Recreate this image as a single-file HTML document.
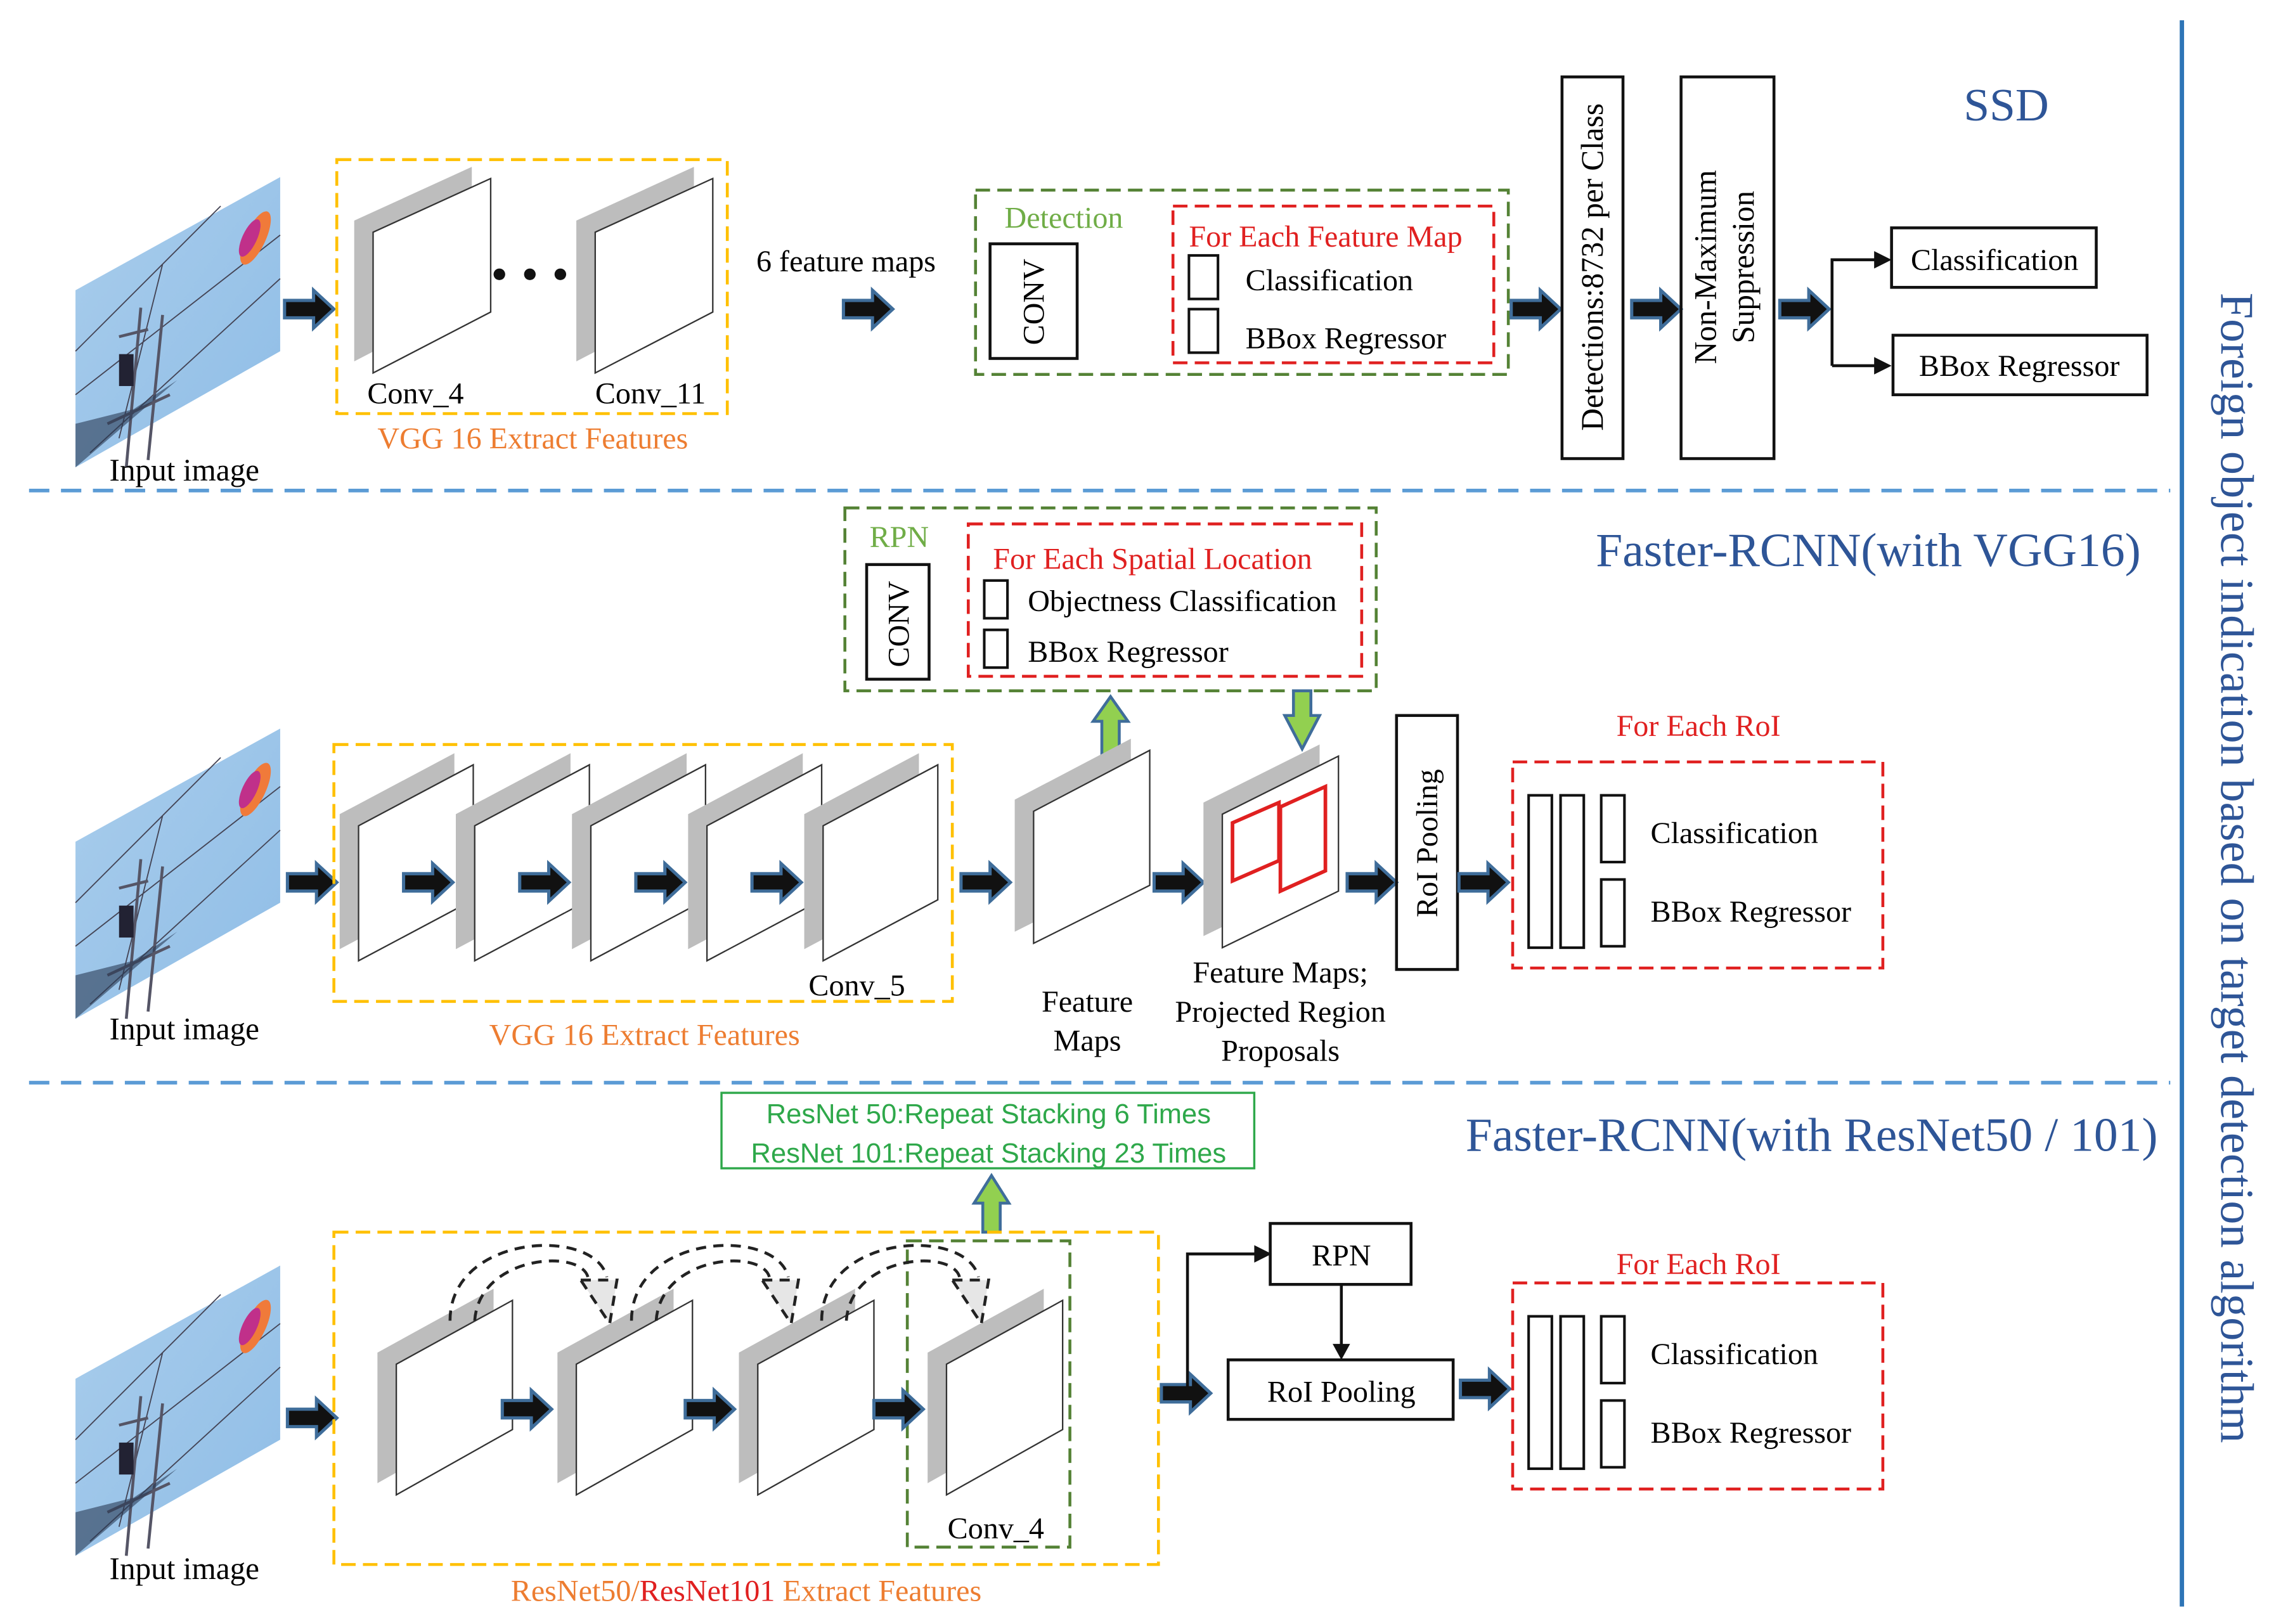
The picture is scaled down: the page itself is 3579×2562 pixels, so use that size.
<!DOCTYPE html>
<html><head><meta charset="utf-8"><style>
html,body{margin:0;padding:0;background:#fff;}
svg{display:block;}
text{font-family:"Liberation Serif",serif;}
.s{font-family:"Liberation Sans",sans-serif;}
</style></head><body>
<svg width="3579" height="2562" viewBox="0 0 1563 1119" preserveAspectRatio="none" xmlns="http://www.w3.org/2000/svg">
<defs>
<g id="ar"><path d="M0,-6 H20 V-13 L34,0 L20,13 V6 H0 Z" fill="#111" stroke="#3f6d9a" stroke-width="2.2" stroke-linejoin="miter"/></g>
<linearGradient id="sky" x1="0" y1="0" x2="1" y2="1"><stop offset="0" stop-color="#a9cdec"/><stop offset="1" stop-color="#8fbde6"/></linearGradient>
<g id="img">
<polygon points="0,78 141,0 141,120 0,200" fill="url(#sky)"/>
<path d="M0,150 L141,40 M10,190 L141,70 M0,120 L100,20 M30,180 L60,60" stroke="#445" stroke-width="0.8" fill="none"/>
<path d="M35,200 L45,90 M50,195 L60,95 M30,110 L50,105 M22,170 L65,150" stroke="#556" stroke-width="2" fill="none"/>
<rect x="30" y="122" width="10" height="22" fill="#223"/>
<path d="M0,170 L40,160 L70,140 L0,200Z" fill="#2a3b55" opacity="0.6"/>
<ellipse cx="124" cy="42" rx="7" ry="20" fill="#f07a3a" transform="rotate(25 124 42)"/>
<ellipse cx="120" cy="42" rx="5" ry="14" fill="#c0308a" transform="rotate(25 120 42)"/>
</g>
</defs>

<line x1="1503" y1="14" x2="1503" y2="1107" stroke="#2e75b6" stroke-width="3"/>
<text x="1530" y="598" transform="rotate(90 1530 598)" text-anchor="middle" font-size="32.5" fill="#2e5597">Foreign object indication based on target detection algorithm</text>

<line x1="20" y1="338" x2="1495" y2="338" stroke="#5b9bd5" stroke-width="2.5" stroke-dasharray="14 8"/>
<line x1="20" y1="746" x2="1495" y2="746" stroke="#5b9bd5" stroke-width="2.5" stroke-dasharray="14 8"/>

<!-- SSD -->
<use href="#img" x="52" y="122"/>
<text x="127" y="331" text-anchor="middle" font-size="21.5">Input image</text>
<use href="#ar" x="196" y="213"/>
<rect x="232" y="110" width="269" height="175" fill="none" stroke="#ffc000" stroke-width="2" stroke-dasharray="10 5"/>
<polygon points="244,152 325,115 325,207 244,249" fill="#bdbdbd"/>
<polygon points="257,160 338,123 338,215 257,257" fill="#fff" stroke="#333" stroke-width="1"/>
<polygon points="397,152 478,115 478,207 397,249" fill="#bdbdbd"/>
<polygon points="410,160 491,123 491,215 410,257" fill="#fff" stroke="#333" stroke-width="1"/>
<circle cx="344" cy="189" r="4" fill="#111"/><circle cx="365" cy="189" r="4" fill="#111"/><circle cx="386" cy="189" r="4" fill="#111"/>
<text x="253" y="278" font-size="21">Conv_4</text>
<text x="410" y="278" font-size="21">Conv_11</text>
<text x="367" y="309" text-anchor="middle" font-size="21" fill="#ed7d31">VGG 16 Extract Features</text>
<text x="521" y="187" font-size="21">6 feature maps</text>
<use href="#ar" x="581" y="213"/>
<rect x="672" y="131" width="367" height="127" fill="none" stroke="#548235" stroke-width="2" stroke-dasharray="10 5"/>
<text x="692" y="157" font-size="21" fill="#70ad47">Detection</text>
<rect x="682" y="168" width="60" height="79" fill="none" stroke="#111" stroke-width="2"/>
<text x="719" y="208" transform="rotate(-90 719 208)" text-anchor="middle" font-size="21">CONV</text>
<rect x="808" y="142" width="221" height="108" fill="none" stroke="#e02020" stroke-width="2" stroke-dasharray="10 5"/>
<text x="819" y="170" font-size="21" fill="#e02020">For Each Feature Map</text>
<rect x="819" y="176" width="20" height="30" fill="none" stroke="#111" stroke-width="1.8"/>
<rect x="819" y="213" width="20" height="30" fill="none" stroke="#111" stroke-width="1.8"/>
<text x="858" y="200" font-size="21">Classification</text>
<text x="858" y="240" font-size="21">BBox Regressor</text>
<use href="#ar" x="1041" y="213"/>
<rect x="1076" y="53" width="42" height="263" fill="none" stroke="#111" stroke-width="2"/>
<text x="1104" y="184" transform="rotate(-90 1104 184)" text-anchor="middle" font-size="21.5">Detections:8732 per Class</text>
<use href="#ar" x="1124" y="213"/>
<rect x="1158" y="53" width="64" height="263" fill="none" stroke="#111" stroke-width="2"/>
<text x="1182" y="184" transform="rotate(-90 1182 184)" text-anchor="middle" font-size="21.5">Non-Maximum</text>
<text x="1208" y="184" transform="rotate(-90 1208 184)" text-anchor="middle" font-size="21.5">Suppression</text>
<use href="#ar" x="1226" y="213"/>
<path d="M1262,252 V179 H1300 M1262,252 H1300" fill="none" stroke="#111" stroke-width="2"/>
<path d="M1291,173 L1303,179 L1291,185 Z M1291,246 L1303,252 L1291,258Z" fill="#111"/>
<rect x="1303" y="157" width="141" height="41" fill="none" stroke="#111" stroke-width="2"/>
<text x="1374" y="186" text-anchor="middle" font-size="21">Classification</text>
<rect x="1304" y="231" width="175" height="41" fill="none" stroke="#111" stroke-width="2"/>
<text x="1391" y="259" text-anchor="middle" font-size="21">BBox Regressor</text>
<text x="1382" y="83" text-anchor="middle" font-size="32" fill="#2e5597">SSD</text>

<!-- VGG16 -->
<text x="1287" y="390" text-anchor="middle" font-size="33" fill="#2e5597">Faster-RCNN(with VGG16)</text>
<rect x="582" y="350" width="366" height="126" fill="none" stroke="#548235" stroke-width="2" stroke-dasharray="10 5"/>
<text x="599" y="377" font-size="21" fill="#70ad47">RPN</text>
<rect x="597" y="389" width="43" height="79" fill="none" stroke="#111" stroke-width="2"/>
<text x="626" y="430" transform="rotate(-90 626 430)" text-anchor="middle" font-size="21">CONV</text>
<rect x="667" y="361" width="271" height="105" fill="none" stroke="#e02020" stroke-width="2" stroke-dasharray="10 5"/>
<text x="684" y="392" font-size="21" fill="#e02020">For Each Spatial Location</text>
<rect x="678" y="400" width="16" height="26" fill="none" stroke="#111" stroke-width="1.8"/>
<rect x="678" y="434" width="16" height="26" fill="none" stroke="#111" stroke-width="1.8"/>
<text x="708" y="421" font-size="21">Objectness Classification</text>
<text x="708" y="456" font-size="21">BBox Regressor</text>
<path d="M759,520 V497 H753 L765,480 L777,497 H771 V520 Z" fill="#92d050" stroke="#3f6d9a" stroke-width="2"/>
<path d="M891,476 V493 H885 L897,516 L909,493 H903 V476 Z" fill="#92d050" stroke="#3f6d9a" stroke-width="2"/>

<use href="#img" x="52" y="502"/>
<text x="127" y="716" text-anchor="middle" font-size="21.5">Input image</text>
<use href="#ar" x="198" y="608"/>
<rect x="230" y="513" width="426" height="177" fill="none" stroke="#ffc000" stroke-width="2" stroke-dasharray="10 5"/>
<polygon points="234,561 313,519 313,612 234,654" fill="#bdbdbd"/>
<polygon points="247,569 326,527 326,620 247,662" fill="#fff" stroke="#333"/>
<polygon points="314,561 393,519 393,612 314,654" fill="#bdbdbd"/>
<polygon points="327,569 406,527 406,620 327,662" fill="#fff" stroke="#333"/>
<polygon points="394,561 473,519 473,612 394,654" fill="#bdbdbd"/>
<polygon points="407,569 486,527 486,620 407,662" fill="#fff" stroke="#333"/>
<polygon points="474,561 553,519 553,612 474,654" fill="#bdbdbd"/>
<polygon points="487,569 566,527 566,620 487,662" fill="#fff" stroke="#333"/>
<polygon points="554,561 633,519 633,612 554,654" fill="#bdbdbd"/>
<polygon points="567,569 646,527 646,620 567,662" fill="#fff" stroke="#333"/>
<use href="#ar" x="278" y="608"/><use href="#ar" x="358" y="608"/><use href="#ar" x="438" y="608"/><use href="#ar" x="518" y="608"/>
<text x="557" y="686" font-size="21">Conv_5</text>
<text x="444" y="720" text-anchor="middle" font-size="21" fill="#ed7d31">VGG 16 Extract Features</text>
<use href="#ar" x="662" y="608"/>
<polygon points="699,551 779,509 779,602 699,642" fill="#bdbdbd"/>
<polygon points="712,559 792,517 792,610 712,650" fill="#fff" stroke="#333"/>
<text x="749" y="697" text-anchor="middle" font-size="21">Feature</text>
<text x="749" y="724" text-anchor="middle" font-size="21">Maps</text>
<use href="#ar" x="795" y="608"/>
<polygon points="829,553 909,513 909,606 829,645" fill="#bdbdbd"/>
<polygon points="842,561 922,521 922,614 842,653" fill="#fff" stroke="#333"/>
<path d="M849,567 L881,553 V593 L849,607 Z M882,556 L913,542 V600 L882,614 Z" fill="none" stroke="#e02020" stroke-width="2.5"/>
<text x="882" y="677" text-anchor="middle" font-size="21">Feature Maps;</text>
<text x="882" y="704" text-anchor="middle" font-size="21">Projected Region</text>
<text x="882" y="731" text-anchor="middle" font-size="21">Proposals</text>
<use href="#ar" x="928" y="608"/>
<rect x="962" y="493" width="42" height="175" fill="none" stroke="#111" stroke-width="2"/>
<text x="990" y="581" transform="rotate(-90 990 581)" text-anchor="middle" font-size="21">RoI  Pooling</text>
<use href="#ar" x="1005" y="608"/>
<text x="1170" y="507" text-anchor="middle" font-size="21" fill="#e02020">For Each RoI</text>
<rect x="1042" y="525" width="255" height="142" fill="none" stroke="#e02020" stroke-width="2" stroke-dasharray="10 5"/>
<rect x="1053" y="548" width="16" height="105" fill="none" stroke="#111" stroke-width="1.8"/>
<rect x="1075" y="548" width="16" height="105" fill="none" stroke="#111" stroke-width="1.8"/>
<rect x="1103" y="548" width="16" height="46" fill="none" stroke="#111" stroke-width="1.8"/>
<rect x="1103" y="606" width="16" height="46" fill="none" stroke="#111" stroke-width="1.8"/>
<text x="1137" y="581" font-size="21">Classification</text>
<text x="1137" y="635" font-size="21">BBox Regressor</text>

<!-- ResNet -->
<text x="1248" y="793" text-anchor="middle" font-size="33" fill="#2e5597">Faster-RCNN(with ResNet50 / 101)</text>
<rect x="497" y="753" width="367" height="52" fill="none" stroke="#2ea84a" stroke-width="1.5"/>
<text class="s" x="681" y="774" text-anchor="middle" font-size="19" fill="#2ea84a">ResNet 50:Repeat Stacking 6 Times</text>
<text class="s" x="681" y="801" text-anchor="middle" font-size="19" fill="#2ea84a">ResNet 101:Repeat Stacking 23 Times</text>
<path d="M677,849 V829 H671 L683,810 L695,829 H689 V849 Z" fill="#92d050" stroke="#3f6d9a" stroke-width="2"/>
<use href="#img" x="52" y="872"/>
<text x="127" y="1088" text-anchor="middle" font-size="21.5">Input image</text>
<use href="#ar" x="198" y="977"/>
<rect x="230" y="849" width="568" height="229" fill="none" stroke="#ffc000" stroke-width="2" stroke-dasharray="10 5"/>
<rect x="625" y="855" width="112" height="211" fill="none" stroke="#548235" stroke-width="2" stroke-dasharray="10 5"/>
<polygon points="260,932 340,888 340,977 260,1022" fill="#bdbdbd"/>
<polygon points="273,940 353,896 353,985 273,1030" fill="#fff" stroke="#333"/>
<polygon points="384,932 464,888 464,977 384,1022" fill="#bdbdbd"/>
<polygon points="397,940 477,896 477,985 397,1030" fill="#fff" stroke="#333"/>
<polygon points="509,932 589,888 589,977 509,1022" fill="#bdbdbd"/>
<polygon points="522,940 602,896 602,985 522,1030" fill="#fff" stroke="#333"/>
<polygon points="639,932 719,888 719,977 639,1022" fill="#bdbdbd"/>
<polygon points="652,940 732,896 732,985 652,1030" fill="#fff" stroke="#333"/>
<g fill="none" stroke="#222" stroke-width="2" stroke-dasharray="7 5">
<path d="M310,910 C310,850 410,845 418,880"/>
<path d="M327,910 C330,865 400,860 405,880"/>
<path d="M435,910 C435,850 535,845 543,880"/>
<path d="M452,910 C455,865 525,860 530,880"/>
<path d="M566,910 C566,850 666,845 674,880"/>
<path d="M583,910 C586,865 656,860 661,880"/>
</g>
<g fill="#e6e6e6" stroke="#222" stroke-width="2" stroke-dasharray="7 5">
<path d="M400,882 L425,882 L420,912 Z"/>
<path d="M525,882 L550,882 L545,912 Z"/>
<path d="M656,882 L681,882 L676,912 Z"/>
</g>
<use href="#ar" x="346" y="971"/><use href="#ar" x="472" y="971"/><use href="#ar" x="602" y="971"/>
<text x="686" y="1060" text-anchor="middle" font-size="21">Conv_4</text>
<text x="514" y="1103" text-anchor="middle" font-size="21" fill="#ed7d31">ResNet50/<tspan fill="#e02020">ResNet101</tspan> Extract Features</text>
<use href="#ar" x="800" y="960"/>
<path d="M818,960 V864 H866" fill="none" stroke="#111" stroke-width="2"/>
<path d="M864,858 L876,864 L864,870Z" fill="#111"/>
<rect x="875" y="843" width="97" height="42" fill="none" stroke="#111" stroke-width="2"/>
<text x="924" y="872" text-anchor="middle" font-size="21">RPN</text>
<path d="M924,885 V928" stroke="#111" stroke-width="2"/>
<path d="M918,926 L924,937 L930,926Z" fill="#111"/>
<rect x="846" y="937" width="155" height="41" fill="none" stroke="#111" stroke-width="2"/>
<text x="924" y="966" text-anchor="middle" font-size="21">RoI  Pooling</text>
<use href="#ar" x="1006" y="957"/>
<text x="1170" y="878" text-anchor="middle" font-size="21" fill="#e02020">For Each RoI</text>
<rect x="1042" y="884" width="255" height="142" fill="none" stroke="#e02020" stroke-width="2" stroke-dasharray="10 5"/>
<rect x="1053" y="907" width="16" height="105" fill="none" stroke="#111" stroke-width="1.8"/>
<rect x="1075" y="907" width="16" height="105" fill="none" stroke="#111" stroke-width="1.8"/>
<rect x="1103" y="907" width="16" height="46" fill="none" stroke="#111" stroke-width="1.8"/>
<rect x="1103" y="965" width="16" height="46" fill="none" stroke="#111" stroke-width="1.8"/>
<text x="1137" y="940" font-size="21">Classification</text>
<text x="1137" y="994" font-size="21">BBox Regressor</text>
</svg>
</body></html>
